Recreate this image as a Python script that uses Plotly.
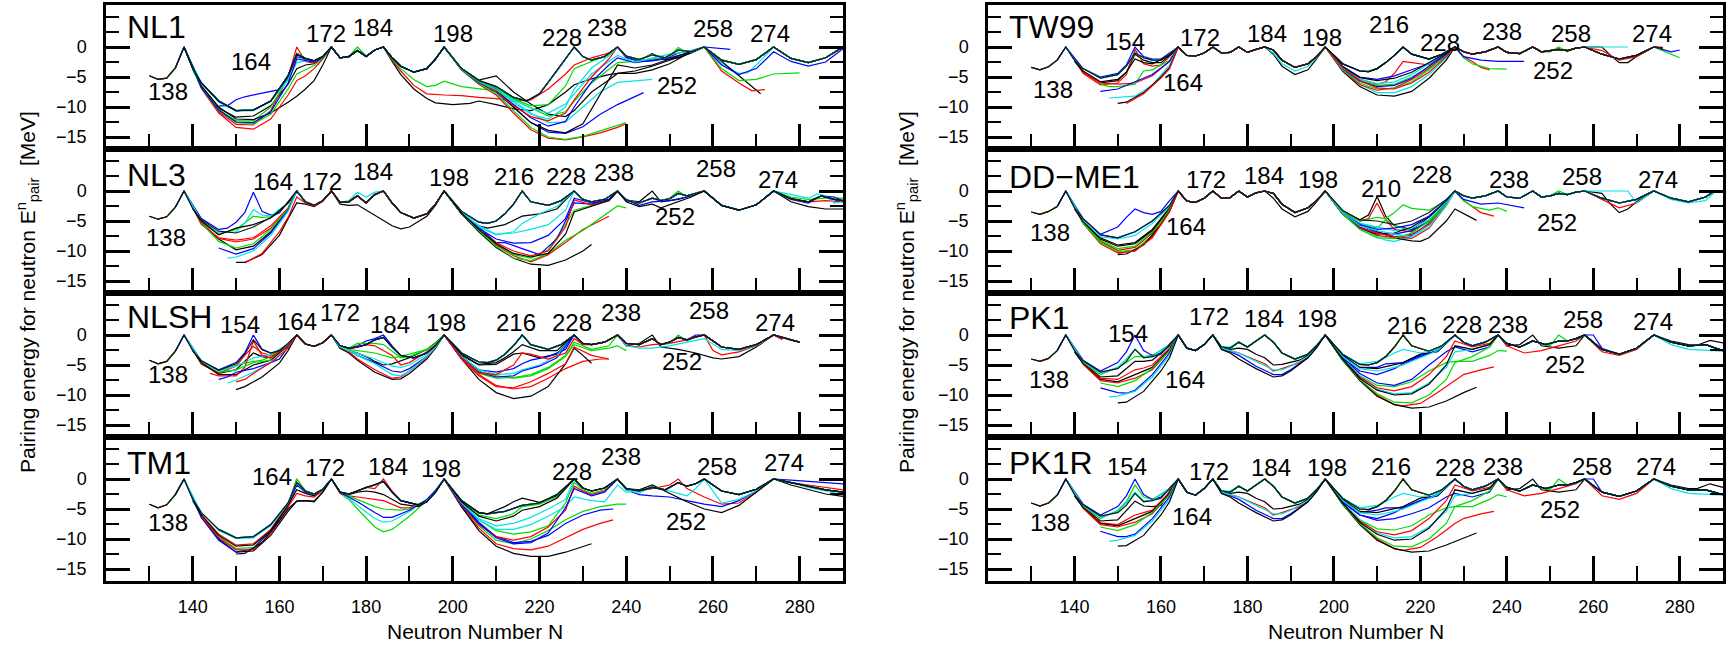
import plotly.graph_objects as go

W, H = 1731, 647
FONT = "Liberation Sans, Arial, Helvetica, sans-serif"
COLORS = ['#000000', '#ff0000', '#00dd00', '#0000ff', '#00e5e5']
ENVELOPE_COLOR = '#0a1a1a'

X_RANGE = [120, 290]
Y_RANGE = [-17, 7]
X_MAJOR = [140, 160, 180, 200, 220, 240, 260, 280]
X_MINOR = [130, 150, 170, 190, 210, 230, 250, 270, 290]
Y_MAJOR = [-15, -10, -5, 0]
Y_MINOR = [-12.5, -7.5, -2.5, 2.5, 5]

# ---------------- NL1 ----------------
NL1_top = [(130,-4.8),(132,-5.4),(134,-5.2),(136,-3.5),(138,0),(140,-3.6),(142,-6.0),(146,-9.0),(150,-10.6),(154,-10.5),(158,-9.0),(162,-4.8),(164,-1.2),(166,-1.9),(168,-2.3),(170,-1.6),(172,0),(174,-1.8),(176,-1.6),(178,-0.6),(180,-1.6),(182,-0.5),(184,0),(186,-1.8),(188,-3.2),(191,-4.2),(194,-3.6),(196,-2.0),(198,0),(202,-3.6),(206,-5.6),(210,-6.6),(214,-8.4),(217,-9.0),(220,-7.8),(224,-4.0),(228,0),(230,-1.6),(232,-2.2),(235,-1.6),(238,0),(240,-1.5),(243,-2.1),(246,-1.3),(249,-1.8),(252,-0.5),(255,-0.8),(258,0),(262,-2.2),(266,-2.9),(270,-2.1),(274,0),(278,-1.9),(282,-2.6),(286,-1.8),(290,0)]
NL1_curves = [
 (130,290,[[(138,0),(142,-6.6),(146,-10.2),(150,-11.7),(154,-11.5),(158,-9.8),(162,-6.2),(164,-3.6),(166,-3.0),(168,-2.8),(170,-1.8),(172,0)],[(238,0),(240,-1.7),(243,-2.2),(246,-1.1),(249,-2.1),(252,-1.8),(255,-1.0),(258,0)]]),
 (132,290,[[(138,0),(142,-6.8),(146,-10.8),(150,-12.9),(154,-13.0),(158,-10.6),(162,-5.0),(164,0),(166,-2.4),(168,-2.7),(170,-1.8),(172,0)]]),
 (134,290,[[(138,0),(142,-6.7),(146,-10.4),(150,-12.3),(154,-12.3),(158,-10.0),(162,-5.2),(164,-1.0),(166,-1.9),(168,-2.3),(170,-1.6),(172,0)],[(176,-1.6),(178,0),(180,-1.5)],[(250,-1.5),(252,-0.1),(254,-0.9)]]),
 (146,290,[[(146,-9.8),(148,-9.8),(150,-8.8),(152,-8.3),(156,-7.7),(160,-7.1),(162,-5.0),(164,-1.6),(166,-2.0),(168,-2.4),(170,-1.6),(172,0)],[(240,-1.8),(243,-2.4),(246,-2.3),(249,-2.0),(252,-1.0),(255,-0.6)]]),
 (138,290,[[(138,0),(142,-6.0),(146,-9.2),(150,-10.7),(154,-10.6),(158,-9.1),(162,-5.5),(164,-2.6),(166,-2.3),(168,-2.4),(170,-1.6),(172,0)],[(258,0),(262,-2.8),(266,-4.4),(268,-4.3),(270,-3.0),(274,0)]]),
 (138,271,[[(138,0),(142,-6.5),(146,-10.0),(150,-12.0),(154,-12.1),(158,-11.0),(162,-9.2),(164,-8.2),(166,-7.0),(168,-5.6),(170,-3.0),(172,0)],[(184,0),(186,-2.4),(188,-4.6),(191,-7.0),(194,-8.6),(196,-9.3),(200,-9.6),(204,-9.4),(206,-9.0),(210,-9.6),(214,-10.3),(218,-10.6),(222,-9.6),(226,-7.5),(228,-6.3),(232,-5.3),(236,-4.6),(238,-4.4),(242,-4.4),(246,-3.8),(250,-2.8),(254,-1.2),(258,0)],[(258,0),(271,-7.8)]]),
 (138,272,[[(138,0),(142,-6.9),(146,-11.0),(150,-13.4),(154,-13.7),(158,-12.0),(162,-8.0),(164,-5.6),(166,-4.8),(168,-3.6),(170,-2.0),(172,0)],[(184,0),(186,-2.2),(188,-4.0),(191,-6.4),(194,-7.8),(198,-8.0),(202,-8.1),(206,-8.4),(210,-8.6),(214,-9.0),(218,-8.8),(222,-7.0),(226,-4.5),(228,-3.0),(232,-1.8),(236,-1.0),(238,0)],[(258,0),(262,-4.0),(266,-6.0),(269,-7.3),(272,-7.1)]]),
 (140,280,[[(140,-3.8),(142,-6.8),(146,-10.6),(150,-12.6),(154,-12.8),(158,-11.2),(162,-7.0),(164,-4.5),(166,-3.8),(168,-3.1),(170,-1.9),(172,0)],[(184,0),(186,-2.0),(188,-3.6),(191,-5.4),(194,-6.6),(196,-6.4),(198,-5.7),(202,-6.6),(206,-7.0),(210,-7.3),(214,-8.8),(218,-10.2),(222,-11.5),(226,-10.8),(228,-9.0),(232,-6.0),(236,-3.8),(238,-2.6),(242,-2.4),(246,-2.0),(250,-1.6),(252,-0.4),(254,-1.0),(258,0)],[(258,0),(262,-3.6),(266,-5.6),(270,-5.4),(274,-4.5),(278,-4.3),(280,-4.3)]]),
 (136,244,[[(138,0),(142,-6.8),(146,-10.5),(150,-12.5),(154,-12.6),(158,-10.8),(162,-6.0),(164,-2.0),(166,-2.2),(168,-2.5),(170,-1.7),(172,0)],[(198,0),(202,-3.8),(206,-6.0),(210,-7.5),(214,-10.0),(218,-12.6),(222,-14.2),(226,-14.4),(230,-13.3),(234,-11.2),(238,-9.6),(242,-8.2),(244,-7.6)]]),
 (138,246,[[(198,0),(202,-3.7),(206,-5.8),(210,-7.0),(214,-9.0),(218,-11.0),(222,-12.6),(226,-12.5),(230,-10.0),(234,-7.5),(238,-5.9),(242,-5.6),(246,-5.4)]]),
 (138,290,[[(198,0),(202,-3.6),(206,-5.5),(210,-4.8),(214,-7.5),(218,-9.5),(222,-11.2),(226,-11.6),(228,-10.6),(232,-7.5),(236,-5.5),(238,-4.4),(242,-4.0),(246,-3.2),(250,-2.2),(254,-1.2),(258,0)]]),
 (198,240,[[(198,0),(202,-3.8),(206,-6.2),(210,-8.0),(214,-11.0),(218,-13.8),(222,-15.2),(226,-15.5),(230,-15.0),(234,-14.3),(238,-13.4),(240,-12.8)]]),
 (198,240,[[(198,0),(202,-3.8),(206,-6.1),(210,-7.8),(214,-10.6),(218,-13.4),(222,-15.0),(226,-15.4),(230,-14.9),(234,-14.0),(238,-13.0),(240,-12.6)]]),
 (138,290,[[(198,0),(202,-3.7),(206,-5.9),(210,-7.2),(214,-9.6),(218,-11.8),(222,-13.2),(226,-12.4),(228,-10.0),(232,-5.8),(236,-3.0),(238,-1.8),(242,-2.6),(246,-2.2),(250,-1.8),(254,-1.0),(258,0)],[(258,0),(262,-3.0),(266,-4.6),(270,-3.6),(274,-0.8),(278,-2.4),(282,-3.2),(286,-2.5),(290,-0.3)]]),
 (138,290,[[(198,0),(202,-3.6),(206,-5.7),(210,-6.8),(214,-8.8),(218,-10.2),(222,-11.0),(226,-9.5),(228,-7.8),(232,-4.5),(236,-2.4),(238,-1.4),(242,-2.5),(246,-1.8),(250,-1.2),(254,-0.8),(258,0)]]),
 (138,290,[[(198,0),(202,-3.7),(206,-5.9),(210,-7.0),(214,-10.0),(218,-12.6),(222,-13.9),(226,-14.3),(230,-12.8),(234,-8.0),(238,-3.0),(242,-3.5),(246,-3.0),(250,-2.0),(254,-1.0),(258,0)]]),
 (198,290,[[(198,0),(202,-3.7),(206,-5.8),(210,-7.4),(214,-9.8),(218,-11.6),(222,-12.3),(226,-11.0),(228,-8.8),(232,-5.0),(236,-2.0),(238,0)]]),
 (198,290,[[(198,0),(202,-3.6),(206,-5.6),(210,-6.8),(214,-8.6),(218,-9.8),(222,-9.6),(226,-6.5),(228,-3.6),(232,-2.4),(236,-1.2),(238,0)]]),
 (258,264,[[(258,0),(264,-0.4)]]),
 (198,290,[[(198,0),(202,-3.7),(206,-5.8),(210,-7.1),(214,-9.3),(218,-11.2),(222,-12.0),(226,-10.0),(228,-7.0),(232,-3.5),(236,-1.5),(238,0)]]),
]
NL1_labels = [('138',134.2,-7.5),('164',153.4,-2.4),('172',170.8,2.3),('184',181.5,3.3),('198',200.0,2.3),('228',225.1,1.5),('238',235.6,3.3),('252',251.7,-6.4),('258',260.0,3.1),('274',273.2,2.3)]

# ---------------- NL3 ----------------
NL3_top = [(130,-4.2),(132,-4.7),(134,-4.3),(136,-2.7),(138,0),(140,-2.9),(142,-4.8),(146,-6.7),(150,-7.0),(154,-6.0),(158,-4.4),(160,-3.6),(162,-1.8),(164,0),(166,-1.8),(168,-2.4),(170,-1.6),(172,0),(174,-1.9),(176,-1.8),(178,-0.8),(180,-2.0),(182,-0.6),(184,0),(186,-2.0),(188,-3.6),(191,-4.5),(194,-3.8),(196,-2.2),(198,0),(202,-3.4),(206,-5.2),(208,-5.4),(210,-5.0),(212,-3.8),(214,-2.2),(216,0),(218,-1.8),(222,-2.4),(225,-1.6),(228,0),(230,-1.4),(232,-1.8),(235,-1.4),(238,0),(240,-1.6),(243,-2.0),(246,-1.2),(248,-1.6),(250,-1.3),(252,-0.4),(254,-0.8),(258,0),(262,-2.4),(266,-3.2),(270,-2.3),(274,0),(278,-1.3),(282,-1.8),(285,-0.8),(288,-1.4),(290,-1.6)]
NL3_curves = [
 (130,290,[[(138,0),(142,-5.4),(146,-8.0),(150,-9.8),(154,-9.2),(158,-6.8),(162,-3.0),(164,0)],[(238,0),(240,-1.5),(243,-1.8),(246,0),(248,-1.8),(252,-1.4),(255,-0.8),(258,0)],[(274,0),(278,-1.8),(282,-2.6),(286,-3.0),(290,-3.0)]]),
 (132,290,[[(138,0),(142,-5.6),(146,-7.8),(150,-8.2),(154,-7.8),(158,-5.8),(162,-2.8),(164,0)],[(274,0),(278,-1.2),(282,-1.8),(286,-1.6),(290,-1.8)]]),
 (134,290,[[(138,0),(142,-5.2),(146,-7.2),(150,-6.4),(154,-4.2),(156,-4.4),(158,-4.3),(162,-2.0),(164,0)],[(250,-1.2),(252,0),(254,-1.0)],[(274,0),(278,-1.0),(282,-1.4),(286,-1.2),(290,-1.2)]]),
 (136,290,[[(138,0),(142,-4.6),(146,-6.4),(148,-6.2),(150,-5.2),(152,-3.6),(154,-0.2),(156,-3.4),(158,-4.0),(160,-3.6),(162,-1.8),(164,0)],[(274,0),(278,-1.4),(282,-2.0),(285,-0.8),(288,-1.0),(290,-1.6)]]),
 (138,290,[[(138,0),(142,-4.9),(146,-7.0),(150,-6.8),(152,-5.4),(154,-3.1),(156,-4.0),(158,-4.2),(162,-2.0),(164,0)],[(176,-1.6),(178,-0.2),(180,-1.0),(182,-0.2)],[(274,0),(278,-0.6),(282,-1.2),(284,-0.5),(286,-0.8),(288,-2.0),(290,-1.8)]]),
 (140,290,[[(140,-3.0),(142,-5.0),(146,-7.3),(150,-6.2),(154,-5.6),(156,-5.0),(158,-4.5),(162,-2.0),(164,0)],[(172,0),(174,-2.2),(176,-2.4),(178,-2.3),(182,-4.0),(186,-5.8),(188,-6.3),(190,-6.0),(194,-4.2),(196,-2.4),(198,0)],[(198,0),(202,-3.8),(206,-5.8),(208,-6.2),(212,-5.6),(216,-4.2),(220,-3.8),(224,-3.0),(228,0)]]),
 (142,236,[[(142,-5.3),(146,-7.9),(150,-8.5),(154,-8.0),(158,-6.2),(162,-3.0),(164,0)],[(198,0),(202,-3.8),(206,-6.6),(210,-9.0),(214,-10.8),(218,-11.8),(222,-10.6),(226,-8.6),(230,-6.4),(234,-5.0),(236,-4.2)]]),
 (142,290,[[(142,-5.4),(146,-8.4),(150,-9.5),(154,-8.8),(158,-6.4),(162,-3.0),(164,0)],[(198,0),(202,-3.8),(206,-6.6),(210,-8.8),(214,-10.6),(218,-11.2),(222,-9.8),(226,-5.6),(228,-3.2),(232,-2.4),(236,-1.6),(238,0)]]),
 (146,290,[[(146,-9.5),(150,-10.5),(154,-9.6),(158,-7.0),(162,-3.2),(164,0)],[(198,0),(202,-3.6),(206,-6.0),(210,-8.6),(212,-8.6),(216,-9.6),(220,-10.6),(224,-8.0),(228,-2.0),(232,-2.2),(236,-1.4),(238,0)]]),
 (148,290,[[(148,-11.2),(150,-11.0),(154,-10.0),(158,-7.4),(162,-3.4),(164,0)],[(198,0),(202,-3.5),(206,-6.0),(210,-7.3),(214,-6.8),(216,-5.4),(220,-3.8),(224,-2.6),(228,0)]]),
 (150,232,[[(150,-11.9),(152,-11.9),(156,-10.6),(160,-7.4),(162,-4.6),(164,-2.0),(166,-2.2),(168,-2.6),(170,-1.7),(172,0)],[(198,0),(202,-3.8),(206,-6.8),(210,-9.4),(214,-11.2),(218,-12.2),(222,-12.4),(226,-11.5),(230,-10.0),(232,-8.9)]]),
 (152,290,[[(152,-12.0),(156,-10.4),(160,-6.8),(162,-4.4),(164,-1.0),(166,-2.0),(168,-2.5),(170,-1.7),(172,0)],[(198,0),(202,-3.8),(206,-6.5),(210,-8.6),(214,-10.0),(218,-10.8),(222,-10.0),(226,-6.0),(228,-1.5),(232,-2.3),(236,-1.6),(238,0)]]),
 (198,240,[[(198,0),(202,-3.7),(206,-6.6),(210,-9.2),(214,-11.2),(218,-11.6),(222,-10.4),(226,-8.2),(230,-6.6),(234,-4.5),(238,-2.5),(240,-2.8)]]),
 (198,290,[[(198,0),(202,-3.6),(206,-6.2),(210,-8.0),(214,-8.7),(218,-8.6),(222,-7.4),(226,-4.6),(228,-1.2),(232,-2.0),(236,-1.4),(238,0)],[(240,-1.4),(243,-2.4),(246,-1.8),(250,-1.6),(254,-1.0),(258,0)]]),
 (198,290,[[(198,0),(202,-3.6),(206,-5.8),(210,-7.2),(214,-7.0),(218,-6.4),(222,-5.6),(226,-3.2),(228,0)]]),
 (198,290,[[(198,0),(202,-3.7),(206,-6.4),(210,-8.8),(214,-10.4),(218,-11.0),(222,-10.4),(226,-7.2),(228,-3.5),(232,-2.5),(236,-1.6),(238,0)],[(240,-1.8),(243,-2.6),(246,-2.2),(248,-2.8),(252,-1.8),(255,-1.0),(258,0)]]),
]
NL3_labels = [('138',133.9,-7.7),('164',158.6,1.6),('172',169.8,1.6),('184',181.5,3.3),('198',199.2,2.2),('216',214.0,2.4),('228',226.2,2.4),('238',237.1,3.1),('252',251.3,-4.3),('258',260.7,3.8),('274',275.1,1.9)]

# ---------------- NLSH ----------------
NLSH_top = [(130,-4.2),(132,-4.8),(134,-4.4),(136,-2.7),(138,0),(140,-2.6),(142,-4.3),(146,-5.9),(150,-4.8),(152,-3.2),(154,-0.8),(156,-2.4),(158,-3.0),(160,-2.6),(162,-1.4),(164,0),(166,-1.5),(168,-1.9),(170,-1.3),(172,0),(174,-1.8),(176,-2.2),(178,-2.0),(180,-1.6),(182,-0.8),(184,-0.4),(186,-2.0),(188,-3.4),(191,-3.8),(194,-3.0),(196,-1.8),(198,0),(202,-3.0),(206,-4.5),(208,-4.6),(210,-4.2),(212,-3.2),(214,-1.8),(216,0),(218,-1.6),(222,-2.4),(225,-1.6),(228,0),(230,-1.4),(232,-1.6),(235,-1.2),(238,0),(240,-1.4),(243,-1.6),(246,-0.6),(248,-1.6),(250,-1.2),(252,-0.4),(254,-0.8),(256,-0.3),(258,0),(262,-2.0),(266,-2.4),(270,-1.6),(274,0),(278,-0.8),(280,-1.2)]
NLSH_curves = [
 (130,276,[[(138,0),(142,-4.8),(146,-6.4),(150,-5.8),(154,-3.0),(156,-3.6),(158,-3.8),(162,-1.6),(164,0)],[(238,0),(240,-1.8),(243,-1.4),(246,0),(248,-2.0),(252,-2.4),(256,-3.0),(260,-3.8),(262,-4.0),(266,-3.6),(270,-2.0),(274,0),(276,-0.6)]]),
 (132,276,[[(138,0),(142,-4.9),(146,-6.3),(150,-5.2),(152,-3.4),(154,-1.9),(156,-3.0),(158,-3.4),(162,-1.6),(164,0)],[(238,0),(240,-1.8),(243,-2.0),(246,-1.6),(250,-1.4),(254,-0.8),(258,0),(260,-2.6),(262,-3.3),(266,-2.8),(270,-1.8),(274,0),(276,-0.8)]]),
 (134,280,[[(138,0),(142,-4.7),(146,-6.0),(150,-5.0),(154,-4.4),(156,-4.2),(158,-3.6),(162,-1.6),(164,0)],[(250,-1.4),(252,0),(254,-1.0)],[(274,0),(278,-0.9),(280,-1.2)]]),
 (136,280,[[(138,0),(142,-4.3),(146,-5.8),(150,-4.6),(152,-3.0),(154,0),(156,-2.4),(158,-3.0),(160,-2.6),(162,-1.4),(164,0)],[(178,-1.8),(180,-1.0),(182,-0.6),(184,0),(186,-1.8)],[(254,-0.8),(256,0),(258,0)]]),
 (138,280,[[(138,0),(142,-4.4),(146,-6.0),(150,-5.2),(154,-3.8),(156,-3.6),(158,-3.2),(162,-1.5),(164,0)],[(240,-1.8),(243,-2.2),(246,-2.2),(250,-1.8),(254,-1.2),(258,-0.6),(262,-2.4),(266,-2.6),(270,-1.8),(274,0)]]),
 (140,280,[[(140,-2.6),(142,-4.6),(146,-6.6),(150,-6.6),(154,-5.0),(158,-4.2),(162,-1.8),(164,0)],[(172,0),(174,-2.2),(176,-2.6),(178,-3.0),(180,-3.6),(182,-4.4),(184,-5.0),(186,-4.8),(190,-3.8),(194,-2.4),(196,-1.3),(198,0)],[(198,0),(202,-3.4),(206,-5.0),(210,-4.9),(212,-4.0),(214,-3.2),(216,-3.0),(220,-3.8),(224,-3.2),(228,0)]]),
 (144,236,[[(144,-6.4),(146,-6.8),(150,-6.8),(152,-5.4),(154,-1.0),(156,-3.4),(158,-3.8),(162,-1.8),(164,0)],[(172,0),(174,-2.0),(176,-2.4),(178,-2.0),(180,-1.6),(182,-1.8),(186,-3.4),(188,-5.0),(190,-4.6),(194,-2.8),(196,-1.6),(198,0)],[(198,0),(202,-3.8),(206,-6.6),(210,-8.4),(214,-9.0),(218,-8.6),(222,-7.2),(226,-5.6),(230,-4.4),(234,-4.0),(236,-4.0)]]),
 (146,240,[[(146,-6.2),(150,-5.8),(154,-4.6),(158,-4.2),(160,-4.0),(162,-2.0),(164,0)],[(172,0),(174,-2.0),(176,-2.2),(178,-1.4),(182,-1.4),(184,-1.6),(188,-3.8),(190,-3.6),(194,-2.4),(196,-1.4),(198,0)],[(198,0),(202,-3.6),(206,-6.0),(210,-6.8),(214,-7.2),(218,-6.8),(222,-5.6),(226,-3.6),(228,-1.6),(232,-2.6),(236,-2.2),(238,-1.8),(240,-2.6)]]),
 (146,280,[[(146,-7.4),(148,-7.0),(150,-6.2),(154,-5.6),(158,-4.6),(160,-4.0),(162,-2.0),(164,0)],[(172,0),(174,-2.0),(176,-2.6),(178,-3.4),(182,-4.6),(186,-6.0),(188,-6.2),(190,-5.6),(194,-3.6),(196,-2.0),(198,0)],[(198,0),(202,-3.6),(206,-5.8),(210,-6.2),(214,-5.6),(216,-4.8),(218,-4.2),(222,-3.6),(226,-2.4),(228,0)]]),
 (148,280,[[(148,-8.0),(150,-7.5),(154,-6.2),(158,-4.6),(162,-2.2),(164,0)],[(172,0),(174,-2.1),(176,-2.6),(178,-3.0),(182,-4.0),(186,-5.2),(188,-5.4),(190,-5.0),(194,-3.2),(196,-1.8),(198,0)],[(198,0),(202,-3.6),(206,-5.8),(210,-6.6),(214,-6.4),(216,-5.8),(220,-5.0),(224,-3.4),(228,0)]]),
 (150,232,[[(150,-9.1),(152,-8.6),(156,-7.0),(160,-4.7),(162,-2.6),(164,0)],[(172,0),(174,-2.2),(176,-3.0),(178,-4.2),(182,-6.2),(186,-7.4),(188,-7.3),(190,-6.4),(194,-4.0),(196,-2.2),(198,0)],[(198,0),(202,-4.0),(206,-7.4),(210,-9.6),(214,-10.6),(218,-10.2),(222,-8.6),(226,-4.8),(228,-2.2),(230,-3.4),(232,-4.7)]]),
 (150,236,[[(150,-7.8),(152,-7.4),(154,-6.4),(158,-4.6),(162,-2.2),(164,0)],[(172,0),(174,-2.0),(176,-2.8),(178,-4.0),(182,-5.8),(186,-7.2),(188,-7.0),(190,-6.0),(194,-3.8),(196,-2.0),(198,0)],[(198,0),(202,-4.0),(206,-6.8),(210,-8.6),(214,-8.8),(218,-7.8),(222,-6.4),(226,-4.8),(228,-2.0),(232,-3.4),(236,-4.0)]]),
 (172,280,[[(172,0),(174,-2.0),(176,-2.4),(178,-2.6),(182,-3.0),(186,-3.8),(188,-3.6),(190,-3.2),(194,-2.4),(196,-1.4),(198,0)],[(198,0),(202,-3.8),(206,-6.4),(210,-7.2),(214,-7.1),(218,-6.6),(222,-5.4),(226,-3.4),(228,-1.2),(232,-2.4),(236,-1.8),(238,0)]]),
 (172,280,[[(198,0),(202,-3.8),(206,-6.2),(210,-7.0),(214,-6.8),(216,-6.0),(220,-5.2),(224,-3.8),(228,0)]]),
 (172,280,[[(172,0),(174,-2.0),(176,-2.6),(178,-3.4),(182,-4.8),(186,-6.6),(188,-6.8),(190,-6.0),(194,-3.6),(196,-2.0),(198,0)]]),
 (198,280,[[(198,0),(202,-3.2),(206,-4.9),(210,-4.6),(212,-3.8),(214,-2.8),(216,-1.6),(220,-2.6),(224,-2.6),(228,0)]]),
 (198,280,[[(198,0),(202,-3.8),(206,-6.3),(210,-6.6),(214,-5.0),(216,-3.0),(218,-3.2),(222,-4.0),(226,-3.0),(228,-0.6),(230,-1.6)]]),
]
NLSH_labels = [('138',134.4,-6.6),('154',150.9,1.7),('164',164.1,2.3),('172',174.0,3.7),('184',185.6,1.7),('198',198.5,2.0),('216',214.6,2.0),('228',227.5,2.0),('238',238.7,3.7),('252',252.8,-4.4),('258',259.0,4.0),('274',274.4,2.0)]

# ---------------- TM1 ----------------
TM1_top = [(130,-4.2),(132,-4.8),(134,-4.3),(136,-2.6),(138,0),(140,-3.4),(142,-5.6),(146,-8.4),(150,-9.8),(154,-9.6),(158,-7.6),(162,-4.0),(164,-0.6),(166,-2.0),(168,-2.5),(170,-1.7),(172,0),(174,-2.2),(176,-2.5),(178,-2.0),(180,-1.4),(182,-1.0),(184,-0.4),(186,-2.2),(188,-3.6),(192,-4.3),(194,-3.8),(196,-2.2),(198,0),(202,-3.6),(206,-5.6),(208,-5.8),(212,-5.4),(216,-4.4),(220,-4.0),(224,-2.6),(228,0),(230,-1.5),(232,-2.0),(235,-1.5),(238,0),(240,-1.6),(243,-2.0),(246,-1.4),(249,-1.8),(252,-0.6),(254,-1.2),(256,-0.8),(258,0),(262,-2.0),(266,-2.6),(270,-1.7),(274,0),(278,-0.6),(282,-1.2),(286,-1.8),(290,-2.2)]
TM1_curves = [
 (130,290,[[(138,0),(142,-6.4),(146,-10.0),(150,-12.2),(154,-12.0),(158,-9.4),(162,-5.4),(164,-3.7),(166,-3.6),(168,-3.7),(170,-2.2),(172,0)],[(274,0),(278,-1.0),(282,-1.8),(286,-2.5),(290,-2.9)]]),
 (132,290,[[(138,0),(142,-6.0),(146,-9.2),(150,-11.0),(154,-10.8),(158,-8.4),(162,-4.2),(164,0)],[(182,-1.6),(184,0),(186,-2.0)],[(246,-1.6),(250,-1.0),(252,0),(254,-1.6),(258,-3.0),(262,-4.2),(266,-4.0),(270,-2.2),(274,0)],[(274,0),(278,-0.6),(282,-1.0),(286,-1.4),(290,-1.8)]]),
 (134,240,[[(138,0),(142,-6.2),(146,-9.6),(150,-11.6),(154,-11.4),(158,-8.8),(162,-4.4),(164,0)],[(172,0),(174,-2.4),(176,-3.4),(178,-5.0),(182,-8.0),(184,-8.8),(186,-8.4),(190,-6.2),(194,-3.6),(196,-2.0),(198,0)],[(198,0),(202,-4.4),(206,-7.8),(210,-10.2),(214,-10.8),(218,-10.0),(222,-8.6),(226,-6.8),(230,-5.4),(234,-4.6),(238,-4.2),(240,-4.2)]]),
 (136,290,[[(138,0),(142,-6.4),(146,-10.2),(150,-12.2),(154,-11.6),(158,-8.6),(162,-4.6),(164,-1.0),(166,-2.2),(168,-2.6),(170,-1.8),(172,0)],[(240,-1.8),(243,-2.6),(246,-2.8),(250,-3.0),(254,-3.6),(258,-4.2),(262,-4.6),(266,-3.6),(270,-2.0),(274,0)],[(274,0),(278,-0.2),(282,-0.4),(286,-0.6),(290,-0.8)]]),
 (138,290,[[(138,0),(142,-5.6),(146,-8.6),(150,-9.9),(154,-9.8),(158,-7.8),(162,-4.2),(164,-0.6),(166,-2.0),(168,-2.6),(170,-1.7),(172,0)],[(172,0),(174,-2.2),(176,-3.2),(178,-4.4),(182,-6.6),(184,-7.2),(186,-7.0),(190,-5.4),(194,-3.4),(196,-2.0),(198,0)],[(240,-1.8),(243,-2.4),(246,-1.2),(250,-2.0),(254,-2.8),(256,-1.6),(258,0),(262,-4.0),(266,-3.4),(270,-2.0),(274,0)],[(274,0),(278,-0.6),(282,-1.4),(286,-2.0),(290,-2.6)]]),
 (140,290,[[(140,-3.6),(142,-6.0),(146,-9.4),(150,-11.2),(154,-11.0),(158,-8.6),(162,-4.4),(164,-1.8),(166,-2.4),(168,-2.8),(170,-1.8),(172,0)],[(172,0),(174,-2.2),(176,-2.6),(178,-2.2),(180,-2.0),(182,-2.2),(184,-2.6),(188,-4.2),(192,-4.6),(194,-3.8),(196,-2.2),(198,0)],[(198,0),(202,-3.6),(206,-5.6),(208,-5.8),(212,-4.6),(214,-3.8),(216,-3.2),(220,-3.9),(224,-2.8),(228,0)],[(240,-1.6),(243,-1.8),(246,-1.0),(250,-2.4),(254,-3.8),(258,-5.0),(262,-5.6),(266,-4.4),(270,-2.2),(274,0)]]),
 (142,237,[[(142,-6.2),(146,-9.8),(150,-11.8),(154,-11.8),(158,-9.2),(162,-4.8),(164,-2.4),(166,-2.8),(168,-3.0),(170,-1.9),(172,0)],[(172,0),(174,-2.4),(176,-2.8),(178,-3.0),(182,-3.4),(184,-3.6),(188,-4.8),(190,-4.8),(194,-3.6),(196,-2.0),(198,0)],[(198,0),(202,-4.6),(206,-8.2),(210,-10.8),(214,-11.6),(218,-11.8),(222,-11.2),(226,-9.8),(230,-8.4),(234,-7.4),(237,-6.8)]]),
 (146,290,[[(172,0),(174,-2.2),(176,-2.8),(178,-3.4),(182,-4.6),(184,-5.0),(188,-5.2),(190,-5.0),(194,-3.6),(196,-2.0),(198,0)],[(198,0),(202,-4.2),(206,-6.8),(210,-8.6),(214,-9.2),(218,-8.8),(222,-7.8),(226,-4.0),(228,-0.6),(230,-1.8),(232,-2.4),(235,-1.8),(238,0)]]),
 (146,237,[[(172,0),(174,-2.2),(176,-3.0),(178,-3.8),(182,-5.6),(184,-6.4),(186,-6.4),(190,-5.2),(194,-3.4),(196,-1.9),(198,0)],[(198,0),(202,-4.0),(206,-7.2),(210,-9.6),(214,-10.6),(218,-10.4),(222,-9.4),(226,-7.4),(230,-6.0),(234,-5.2),(237,-5.0)]]),
 (146,290,[[(198,0),(202,-4.0),(206,-6.8),(210,-8.4),(214,-8.4),(218,-7.6),(222,-6.2),(226,-4.6),(228,-3.0),(232,-3.6),(235,-3.8),(238,-1.0),(240,-2.2)]]),
 (150,232,[[(150,-12.5),(152,-12.4),(156,-10.6),(160,-7.0),(162,-5.0),(164,-3.7),(166,-3.6),(168,-3.8),(170,-2.2),(172,0)],[(198,0),(202,-4.6),(206,-8.6),(210,-11.2),(214,-12.4),(218,-12.9),(222,-12.9),(226,-12.2),(230,-11.2),(232,-10.8)]]),
 (198,290,[[(198,0),(202,-4.4),(206,-7.6),(210,-9.6),(214,-10.2),(218,-9.6),(222,-8.0),(226,-5.2),(228,-1.2),(230,-2.0),(232,-2.6),(235,-2.0),(238,0)]]),
 (198,290,[[(198,0),(202,-3.8),(206,-6.0),(210,-6.6),(214,-5.8),(216,-4.6),(220,-4.2),(224,-3.0),(228,0)]]),
 (198,290,[[(198,0),(202,-4.2),(206,-7.4),(210,-9.8),(214,-10.8),(218,-10.6),(222,-9.0),(226,-4.8),(228,-1.6),(232,-2.8),(235,-2.2),(238,0)]]),
 (198,290,[[(198,0),(202,-4.0),(206,-6.6),(210,-7.8),(214,-7.4),(218,-6.4),(222,-5.0),(226,-3.4),(228,0)]]),
 (198,290,[[(198,0),(202,-3.8),(206,-6.2),(210,-7.0),(214,-6.2),(216,-5.2),(220,-4.6),(224,-3.2),(228,0)]]),
]
TM1_labels = [('138',134.4,-7.3),('164',158.2,0.4),('172',170.6,2.0),('184',185.0,2.1),('198',197.2,1.8),('228',227.5,1.3),('238',238.8,3.8),('252',253.8,-7.0),('258',260.9,2.1),('274',276.4,2.7)]

# ---------------- TW99 ----------------
TW99_top = [(130,-3.4),(132,-3.8),(134,-3.3),(136,-2.2),(138,0),(140,-2.2),(142,-3.6),(146,-5.2),(150,-4.6),(152,-3.2),(154,-1.0),(156,-1.8),(158,-2.2),(160,-2.2),(162,-1.2),(164,0),(166,-1.4),(168,-1.5),(170,-1.0),(172,0),(174,-1.0),(176,-0.9),(178,0),(180,-0.9),(182,-0.4),(184,0),(186,-0.5),(188,-2.2),(191,-3.4),(194,-2.8),(196,-1.6),(198,0),(202,-2.8),(206,-4.0),(208,-4.1),(210,-3.6),(212,-2.6),(214,-1.4),(216,0),(218,-1.2),(222,-2.0),(225,-1.2),(228,0),(230,-0.8),(232,-1.2),(235,-0.8),(238,0),(240,-0.9),(243,-1.1),(246,0),(248,-0.8),(250,-0.6),(252,-0.4),(254,-0.6),(256,-0.2),(258,0),(262,-1.2),(266,-2.0),(270,-1.4),(274,0),(276,-0.2)]
TW99_curves = [
 (130,274,[[(138,0),(142,-4.2),(146,-6.0),(150,-5.6),(152,-4.2),(154,-1.2),(156,-2.2),(158,-2.6),(160,-2.6),(162,-1.4),(164,0)],[(184,0),(186,-1.2),(188,-3.2),(191,-4.6),(194,-3.8),(196,-2.0),(198,0)],[(258,0),(262,0),(264,-1.4),(266,-2.6),(268,-2.6),(270,-1.6),(274,0)]]),
 (132,276,[[(138,0),(142,-4.4),(146,-6.3),(150,-6.0),(152,-4.6),(154,-0.4),(156,-2.8),(158,-3.2),(160,-3.0),(162,-1.6),(164,0)],[(258,0),(262,-0.6),(266,-2.2),(270,-1.6),(274,0),(276,0)]]),
 (134,280,[[(250,-0.8),(252,0),(254,-0.8)],[(274,0),(276,-0.6),(278,-1.2),(280,-1.8)]]),
 (136,280,[[(138,0),(142,-3.6),(146,-5.0),(150,-4.4),(152,-3.0),(154,0),(156,-1.6),(158,-2.0),(160,-2.0),(162,-1.0),(164,0)],[(274,0),(276,-0.4),(278,-0.8),(280,-0.5)]]),
 (138,268,[[(184,0),(186,-1.0),(188,-2.8),(191,-4.0),(194,-3.2),(196,-1.8),(198,0)],[(258,0),(262,0),(266,0),(268,0)]]),
 (140,276,[[(140,-2.4),(142,-4.0),(146,-5.8),(150,-5.4),(152,-4.2),(154,-2.0),(156,-2.6),(158,-2.8),(162,-1.4),(164,0)]]),
 (142,236,[[(142,-4.2),(146,-6.0),(150,-6.2),(154,-6.0),(158,-4.8),(162,-2.4),(164,0)],[(198,0),(202,-3.6),(206,-5.4),(210,-6.2),(212,-5.8),(214,-4.4),(216,-2.4),(218,-2.6),(222,-3.0),(225,-1.8),(228,0),(230,-1.6),(232,-2.4),(234,-3.4),(236,-3.8)]]),
 (146,240,[[(146,-6.2),(148,-6.6),(150,-6.6),(154,-6.2),(156,-4.0),(158,-3.8),(162,-2.2),(164,0)],[(198,0),(202,-3.6),(206,-5.6),(210,-6.4),(214,-6.2),(218,-5.0),(222,-3.4),(226,-1.6),(228,0),(230,-1.8),(232,-2.8),(236,-3.6),(240,-3.7)]]),
 (146,244,[[(146,-7.4),(150,-7.0),(154,-5.8),(158,-4.6),(162,-2.4),(164,0)],[(198,0),(202,-3.2),(206,-5.0),(210,-5.4),(214,-4.8),(218,-3.8),(222,-2.8),(226,-1.2),(228,0),(230,-1.6),(234,-2.2),(238,-2.4),(244,-2.4)]]),
 (148,276,[[(148,-8.5),(150,-8.4),(154,-8.2),(158,-6.4),(162,-3.0),(164,0)],[(198,0),(202,-3.8),(206,-6.2),(210,-7.6),(214,-7.6),(218,-6.6),(222,-4.6),(226,-1.8),(228,0)]]),
 (150,276,[[(150,-9.4),(152,-9.2),(156,-7.6),(160,-5.0),(162,-3.4),(164,0)],[(198,0),(202,-4.0),(206,-6.6),(210,-8.0),(214,-8.2),(218,-7.4),(222,-5.2),(226,-2.2),(228,0)]]),
 (152,276,[[(152,-9.4),(156,-7.8),(160,-5.2),(162,-3.6),(164,0)],[(198,0),(202,-3.9),(206,-6.3),(210,-7.2),(214,-6.8),(218,-5.4),(222,-3.6),(226,-1.4),(228,0)]]),
 (198,276,[[(198,0),(202,-3.8),(206,-6.0),(210,-7.0),(214,-6.9),(218,-5.8),(222,-3.8),(226,-1.4),(228,0)]]),
 (198,276,[[(198,0),(202,-3.6),(206,-5.7),(210,-6.6),(214,-6.4),(218,-5.2),(222,-3.2),(226,-1.2),(228,0)]]),
 (198,276,[[(198,0),(202,-3.5),(206,-5.4),(210,-6.1),(214,-5.8),(218,-4.6),(222,-2.8),(226,-1.0),(228,0)]]),
 (198,276,[[(198,0),(202,-3.3),(206,-5.1),(210,-5.6),(214,-5.2),(218,-4.2),(222,-2.6),(226,-1.0),(228,0)]]),
 (198,276,[[(198,0),(202,-3.4),(206,-5.6),(210,-6.8),(214,-7.0),(218,-6.0),(222,-4.2),(226,-1.6),(228,0)]]),
]
TW99_labels = [('138',135.0,-7.1),('154',151.7,0.9),('164',165.0,-6.0),('172',169.1,1.5),('184',184.6,2.3),('198',197.2,1.5),('216',212.7,3.7),('228',224.5,0.7),('238',238.9,2.5),('252',250.7,-3.9),('258',254.8,2.3),('274',273.5,2.3)]

# ---------------- DD-ME1 ----------------
DDME1_top = [(130,-3.5),(132,-3.9),(134,-3.4),(136,-2.6),(138,0),(140,-2.8),(142,-4.6),(146,-7.3),(150,-7.8),(154,-6.8),(158,-5.0),(162,-2.4),(164,0),(166,-1.7),(168,-1.9),(170,-1.2),(172,0),(174,-1.2),(176,-1.1),(178,0),(180,-1.0),(182,-0.3),(184,0),(186,-0.4),(188,-2.2),(191,-3.6),(194,-2.8),(196,-1.6),(198,0),(202,-3.2),(206,-4.8),(210,-5.0),(214,-5.6),(218,-5.0),(222,-3.6),(226,-1.4),(228,0),(230,-0.8),(232,-1.2),(235,-0.8),(238,0),(240,-1.0),(243,-1.2),(246,0),(248,-1.0),(250,-0.8),(252,-0.4),(254,-0.6),(256,-0.2),(258,0),(262,-1.2),(266,-2.0),(270,-1.4),(274,0),(278,-1.2),(282,-1.8),(286,-1.0),(288,0),(290,0)]
DDME1_curves = [
 (130,290,[[(138,0),(142,-5.2),(146,-7.8),(150,-9.0),(154,-8.6),(158,-6.4),(162,-2.8),(164,0)],[(184,0),(186,-1.2),(188,-3.0),(191,-4.3),(194,-3.4),(196,-1.8),(198,0)],[(198,0),(202,-3.4),(206,-4.8),(208,-4.0),(210,-0.9),(212,-4.2),(214,-5.8),(218,-6.4),(222,-4.4),(226,-1.6),(228,0)],[(258,0),(262,-0.4),(264,-2.2),(266,-3.6),(268,-3.0),(270,-1.8),(274,0)]]),
 (132,290,[[(138,0),(142,-5.4),(146,-8.4),(150,-9.9),(154,-9.4),(158,-7.0),(162,-3.0),(164,0)],[(198,0),(202,-3.4),(206,-5.0),(208,-4.6),(210,-2.0),(212,-4.8),(214,-6.4),(218,-6.8),(222,-5.0),(226,-2.0),(228,0)],[(258,0),(262,-1.4),(266,-2.8),(270,-2.0),(274,0)]]),
 (134,290,[[(138,0),(142,-5.3),(146,-8.2),(150,-9.6),(154,-9.2),(158,-6.8),(162,-2.9),(164,0)],[(198,0),(202,-3.4),(206,-5.0),(210,-4.4),(212,-4.6),(214,-3.6),(216,-2.3),(218,-2.9),(222,-3.2),(226,-1.6),(228,0)],[(250,-0.8),(252,0),(254,-0.6)]]),
 (136,290,[[(138,0),(142,-4.6),(146,-7.2),(150,-6.0),(152,-4.4),(154,-3.0),(156,-3.6),(158,-3.9),(160,-3.4),(162,-1.6),(164,0)],[(198,0),(202,-3.6),(206,-5.6),(210,-6.8),(214,-7.6),(218,-7.4),(222,-5.4),(226,-2.0),(228,0)]]),
 (138,290,[[(138,0),(142,-4.9),(146,-7.6),(150,-8.0),(154,-7.4),(158,-5.4),(162,-2.6),(164,0)],[(198,0),(202,-3.8),(206,-6.2),(210,-7.6),(212,-8.2),(214,-8.4),(218,-7.6),(222,-5.6),(226,-2.2),(228,0)],[(258,0),(262,0),(266,0),(268,0),(270,-2.0),(274,0)],[(274,0),(278,-1.4),(282,-2.0),(286,-1.6),(288,-0.2),(290,0)]]),
 (140,233,[[(140,-3.0),(142,-5.1),(146,-8.0),(150,-9.2),(154,-8.8),(158,-6.6),(162,-2.9),(164,0)],[(198,0),(202,-3.6),(206,-5.6),(210,-6.8),(214,-7.8),(218,-8.3),(220,-8.4),(222,-7.8),(226,-5.0),(228,-3.0),(230,-3.8),(233,-4.9)]]),
 (142,237,[[(142,-5.4),(146,-8.8),(150,-10.3),(154,-10.0),(158,-7.6),(162,-3.2),(164,0)],[(198,0),(202,-3.8),(206,-6.0),(210,-7.4),(214,-7.8),(218,-7.2),(222,-5.6),(226,-2.4),(228,0),(230,-1.6),(232,-2.6),(234,-3.6),(237,-4.2)]]),
 (142,240,[[(142,-5.3),(146,-8.6),(150,-10.1),(154,-9.8),(158,-7.4),(162,-3.1),(164,0)],[(198,0),(202,-3.6),(206,-5.4),(210,-6.2),(212,-4.8),(214,-5.8),(218,-6.6),(222,-5.2),(226,-2.2),(228,0),(230,-1.6),(232,-2.6),(236,-3.2),(238,-2.8),(240,-3.4)]]),
 (146,244,[[(198,0),(202,-3.8),(206,-6.0),(210,-7.0),(214,-7.2),(218,-6.6),(222,-5.0),(226,-2.0),(228,0),(230,-1.4),(234,-2.2),(238,-2.0),(242,-2.6),(244,-2.8)]]),
 (148,290,[[(198,0),(202,-3.6),(206,-5.4),(210,-6.0),(214,-6.6),(218,-6.2),(222,-4.8),(226,-1.8),(228,0)]]),
 (150,290,[[(150,-10.6),(152,-10.5),(156,-9.0),(160,-5.6),(162,-3.4),(164,0)],[(198,0),(202,-3.8),(206,-6.2),(210,-7.2),(214,-7.0),(218,-6.0),(222,-4.2),(226,-1.6),(228,0)]]),
 (150,290,[[(150,-10.4),(154,-10.0),(158,-7.8),(162,-3.4),(164,0)],[(198,0),(202,-3.8),(206,-6.2),(210,-7.0),(214,-7.6),(218,-7.9),(222,-6.2),(226,-2.4),(228,0)]]),
 (198,290,[[(198,0),(202,-3.8),(206,-6.4),(210,-7.8),(214,-7.9),(218,-7.0),(222,-5.0),(226,-2.0),(228,0)]]),
 (198,290,[[(198,0),(202,-3.6),(206,-5.6),(210,-6.4),(214,-6.2),(218,-5.6),(222,-4.2),(226,-1.6),(228,0)]]),
 (198,290,[[(198,0),(202,-3.6),(206,-5.8),(210,-6.6),(214,-7.2),(218,-7.6),(222,-6.0),(226,-2.4),(228,0)]]),
]
DDME1_labels = [('138',134.3,-6.9),('164',165.9,-5.9),('172',170.4,1.9),('184',183.9,2.6),('198',196.4,1.9),('210',211.0,0.4),('228',222.8,2.7),('238',240.6,1.9),('252',251.6,-5.2),('258',257.4,2.4),('274',275.0,1.9)]

# ---------------- PK1 ----------------
PK1_top = [(130,-4.0),(132,-4.4),(134,-3.9),(136,-2.6),(138,0),(140,-2.6),(142,-4.3),(146,-6.2),(150,-5.6),(152,-4.4),(154,-2.4),(156,-3.8),(158,-3.6),(160,-3.2),(162,-1.6),(164,0),(166,-2.2),(168,-2.6),(170,-1.6),(172,0),(174,-2.0),(176,-2.2),(178,-1.2),(180,-2.0),(182,-1.0),(184,0),(186,-1.2),(188,-3.0),(191,-4.0),(194,-3.2),(196,-1.8),(198,0),(202,-3.2),(206,-4.9),(208,-5.0),(210,-4.6),(212,-3.6),(214,-2.0),(216,0),(218,-1.8),(222,-2.7),(225,-1.8),(228,0),(230,-1.2),(232,-1.8),(235,-1.2),(238,0),(240,-1.4),(243,-2.0),(246,-1.0),(249,-1.6),(252,-1.0),(254,-1.0),(256,-0.6),(258,0),(262,-2.4),(266,-3.2),(270,-2.2),(274,0),(278,-1.2),(282,-1.8),(286,-1.6),(290,-2.6)]
PK1_curves = [
 (130,290,[[(138,0),(142,-4.6),(146,-7.0),(150,-6.8),(154,-4.4),(156,-4.4),(158,-4.2),(162,-1.8),(164,0)],[(238,0),(240,-1.8),(243,-1.6),(246,0),(248,-1.8),(252,-2.2),(256,-1.8),(258,0)],[(274,0),(278,-1.0),(282,-1.6),(284,-1.7),(287,-0.9),(290,-1.3)]]),
 (132,290,[[(138,0),(142,-4.8),(146,-7.2),(150,-7.4),(154,-5.8),(156,-5.5),(158,-5.0),(162,-2.2),(164,0)],[(240,-1.8),(244,-3.0),(248,-2.6),(252,-1.8),(256,-1.0),(258,0),(262,-2.8),(266,-3.4),(270,-2.4),(274,0)]]),
 (134,290,[[(138,0),(142,-4.5),(146,-6.6),(150,-5.4),(152,-4.6),(154,-3.6),(156,-3.6),(158,-3.4),(162,-1.6),(164,0)],[(250,-1.8),(252,0),(254,-1.0)]]),
 (136,290,[[(138,0),(142,-4.2),(146,-6.0),(150,-4.6),(152,-2.8),(154,0),(156,-2.6),(158,-3.4),(160,-3.0),(162,-1.5),(164,0)],[(198,0),(202,-3.4),(206,-5.4),(210,-5.4),(212,-4.8),(216,-4.6),(220,-3.4),(224,-2.6),(228,0)],[(256,-0.6),(258,0),(260,0),(262,-2.2)]]),
 (138,290,[[(138,0),(142,-4.4),(146,-6.4),(150,-5.4),(152,-4.0),(154,-2.4),(156,-3.6),(158,-3.6),(162,-1.6),(164,0)],[(176,-2.0),(178,-1.1),(180,-2.0)],[(198,0),(202,-3.2),(206,-4.8),(210,-4.4),(212,-3.8),(214,-3.0),(216,-2.4),(220,-3.0),(224,-2.4),(228,0)],[(274,0),(278,-1.6),(282,-2.4),(286,-2.6),(290,-2.7)]]),
 (140,290,[[(140,-2.8),(142,-4.8),(146,-7.4),(150,-7.8),(154,-6.6),(158,-5.4),(162,-2.4),(164,0)],[(172,0),(174,-2.2),(176,-2.4),(178,-2.2),(180,-2.4),(182,-3.2),(184,-3.8),(186,-5.0),(188,-4.9),(192,-4.2),(194,-3.4),(196,-1.9),(198,0)],[(198,0),(202,-3.4),(206,-5.4),(210,-5.6),(214,-5.0),(216,-4.6),(220,-3.2),(224,-2.8),(228,0)]]),
 (142,237,[[(142,-4.9),(146,-7.6),(150,-8.0),(154,-7.2),(158,-5.8),(162,-2.6),(164,0)],[(172,0),(174,-2.2),(176,-2.6),(178,-3.0),(182,-4.2),(184,-4.8),(186,-6.0),(188,-5.6),(192,-4.6),(194,-3.6),(196,-2.0),(198,0)],[(198,0),(202,-4.2),(206,-7.4),(210,-10.0),(214,-11.6),(216,-11.8),(220,-11.4),(224,-9.6),(228,-7.6),(230,-6.6),(234,-5.8),(237,-5.3)]]),
 (146,240,[[(146,-8.0),(150,-8.6),(154,-7.6),(158,-5.6),(162,-2.6),(164,0)],[(198,0),(202,-4.0),(206,-6.8),(210,-8.4),(214,-8.6),(218,-7.8),(222,-6.0),(226,-4.6),(228,-4.4),(232,-4.4),(236,-3.4),(238,-2.6),(240,-2.7)]]),
 (146,290,[[(146,-8.8),(150,-9.6),(152,-9.7),(154,-9.2),(158,-6.6),(162,-3.0),(164,0)],[(172,0),(174,-2.3),(176,-2.8),(178,-3.4),(182,-5.2),(186,-6.6),(188,-6.6),(190,-5.8),(194,-3.8),(196,-2.1),(198,0)],[(198,0),(202,-3.8),(206,-6.4),(210,-8.0),(214,-8.4),(218,-7.4),(222,-5.0),(226,-2.8),(228,-2.0),(232,-2.8),(236,-2.0),(238,0)]]),
 (148,290,[[(148,-10.3),(150,-10.2),(154,-9.4),(158,-7.0),(162,-3.4),(164,0)],[(172,0),(174,-2.2),(176,-2.6),(178,-3.0),(182,-4.4),(186,-5.8),(188,-5.8),(190,-5.2),(194,-3.6),(196,-2.0),(198,0)],[(198,0),(202,-3.8),(206,-6.8),(210,-9.0),(214,-9.8),(218,-9.6),(222,-8.0),(226,-5.4),(228,-2.8),(232,-2.4),(236,-1.6),(238,0)]]),
 (150,233,[[(150,-11.3),(152,-11.2),(156,-9.4),(160,-6.0),(162,-3.8),(164,0)],[(172,0),(174,-2.4),(176,-3.0),(178,-4.0),(182,-5.6),(186,-7.0),(188,-6.8),(190,-6.0),(194,-3.8),(196,-2.1),(198,0)],[(198,0),(202,-4.2),(206,-7.6),(210,-10.2),(214,-11.6),(218,-12.2),(222,-12.0),(226,-11.0),(230,-9.6),(233,-8.7)]]),
 (198,290,[[(198,0),(202,-4.0),(206,-7.0),(210,-8.8),(214,-9.3),(218,-8.6),(222,-6.6),(226,-3.6),(228,-1.0),(232,-2.0),(236,-1.4),(238,0)]]),
 (198,290,[[(198,0),(202,-4.2),(206,-7.4),(210,-9.8),(214,-11.2),(218,-11.3),(222,-10.0),(226,-7.4),(228,-4.6),(232,-3.6),(236,-2.0),(238,0)]]),
 (198,290,[[(198,0),(202,-3.8),(206,-6.0),(210,-6.6),(214,-5.6),(216,-4.8),(220,-3.6),(224,-2.6),(228,0)]]),
 (198,290,[[(198,0),(202,-3.6),(206,-5.6),(210,-6.0),(214,-5.4),(216,-5.0),(220,-3.8),(224,-2.6),(228,0)]]),
 (198,290,[[(198,0),(202,-4.0),(206,-7.2),(210,-9.2),(214,-10.0),(218,-9.8),(222,-8.2),(226,-5.0),(228,-1.8),(232,-2.4),(236,-1.6),(238,0)]]),
]
PK1_labels = [('138',134.0,-7.4),('154',152.3,0.3),('164',165.5,-7.4),('172',171.0,3.1),('184',183.9,2.8),('198',196.2,2.8),('216',216.8,1.6),('228',229.7,1.7),('238',240.2,1.7),('252',253.5,-4.9),('258',257.6,2.6),('274',273.9,2.3)]

# ---------------- PK1R ----------------
PK1R_top = [(130,-4.0),(132,-4.5),(134,-4.0),(136,-2.7),(138,0),(140,-2.6),(142,-4.3),(146,-6.2),(150,-5.6),(152,-4.4),(154,-2.4),(156,-3.8),(158,-3.6),(160,-3.2),(162,-1.6),(164,0),(166,-2.2),(168,-2.7),(170,-1.6),(172,0),(174,-2.0),(176,-2.2),(178,-1.2),(180,-2.0),(182,-1.0),(184,0),(186,-1.2),(188,-3.0),(191,-4.0),(194,-3.2),(196,-1.8),(198,0),(202,-3.2),(206,-5.0),(208,-5.1),(210,-4.6),(212,-3.6),(214,-2.0),(216,0),(218,-1.8),(222,-2.7),(225,-1.8),(228,0),(230,-1.2),(232,-1.8),(235,-1.2),(238,0),(240,-1.4),(243,-2.0),(246,-1.0),(249,-1.6),(252,-1.0),(254,-1.0),(256,-0.6),(258,0),(262,-2.2),(266,-2.9),(270,-2.0),(274,0),(278,-1.2),(282,-1.8),(286,-1.8),(290,-2.6)]
PK1R_curves = [
 (130,290,[[(138,0),(142,-4.6),(146,-7.0),(150,-6.8),(154,-3.7),(156,-4.5),(158,-4.6),(160,-4.4),(162,-2.0),(164,0)],[(238,0),(240,-1.8),(243,-1.6),(246,0),(248,-1.8),(252,-2.2),(256,-1.8),(258,0)],[(274,0),(278,-1.0),(282,-1.6),(284,-1.6),(287,-0.8),(290,-1.4)]]),
 (132,290,[[(138,0),(142,-4.8),(146,-7.3),(150,-7.6),(154,-6.0),(156,-5.6),(158,-5.2),(162,-2.2),(164,0)],[(240,-1.8),(244,-2.8),(248,-2.4),(252,-1.6),(256,-0.8),(258,0),(262,-2.8),(266,-3.4),(270,-2.4),(274,0)]]),
 (134,290,[[(138,0),(142,-4.5),(146,-6.6),(150,-5.2),(152,-3.8),(154,-1.0),(156,-3.0),(158,-3.4),(162,-1.6),(164,0)],[(250,-1.8),(252,0),(254,-1.0)]]),
 (136,290,[[(138,0),(142,-4.2),(146,-6.0),(150,-4.6),(152,-2.8),(154,0),(156,-2.6),(158,-3.4),(160,-3.0),(162,-1.5),(164,0)],[(198,0),(202,-3.6),(206,-5.6),(210,-5.2),(212,-4.8),(216,-4.8),(220,-3.6),(224,-2.8),(228,0)],[(256,-0.6),(258,0),(260,0),(262,-2.2)]]),
 (138,290,[[(138,0),(142,-4.4),(146,-6.4),(150,-5.4),(152,-4.0),(154,-2.2),(156,-3.6),(158,-3.6),(162,-1.6),(164,0)],[(176,-2.0),(178,-1.1),(180,-2.0)],[(198,0),(202,-3.2),(206,-4.8),(210,-4.4),(212,-3.8),(214,-3.0),(216,-2.4),(220,-3.0),(224,-2.4),(228,0)],[(274,0),(278,-1.6),(282,-2.4),(286,-2.6),(290,-2.7)]]),
 (140,290,[[(140,-2.8),(142,-4.8),(146,-7.4),(150,-7.8),(154,-6.6),(158,-5.4),(162,-2.4),(164,0)],[(172,0),(174,-2.2),(176,-2.4),(178,-2.2),(180,-2.4),(182,-3.2),(184,-3.8),(186,-5.0),(188,-4.9),(192,-4.2),(194,-3.4),(196,-1.9),(198,0)],[(198,0),(202,-3.4),(206,-5.4),(210,-5.6),(214,-5.0),(216,-4.6),(220,-3.2),(224,-2.8),(228,0)]]),
 (142,237,[[(142,-4.9),(146,-7.6),(150,-8.0),(154,-7.2),(158,-5.8),(162,-2.6),(164,0)],[(172,0),(174,-2.2),(176,-2.6),(178,-3.0),(182,-4.2),(184,-4.8),(186,-6.0),(188,-5.6),(192,-4.6),(194,-3.6),(196,-2.0),(198,0)],[(198,0),(202,-4.2),(206,-7.4),(210,-10.0),(214,-11.6),(216,-11.9),(220,-11.4),(224,-9.6),(228,-7.4),(230,-6.6),(234,-5.8),(237,-5.4)]]),
 (146,240,[[(146,-8.0),(150,-8.6),(154,-7.6),(158,-5.6),(162,-2.6),(164,0)],[(198,0),(202,-4.0),(206,-6.8),(210,-8.3),(214,-8.5),(218,-7.8),(222,-6.0),(226,-4.8),(228,-4.6),(232,-4.6),(236,-3.4),(238,-2.6),(240,-3.0)]]),
 (146,290,[[(146,-8.7),(150,-9.6),(152,-9.6),(154,-9.2),(158,-6.6),(162,-3.0),(164,0)],[(172,0),(174,-2.3),(176,-2.8),(178,-3.4),(182,-5.2),(186,-6.6),(188,-6.6),(190,-5.8),(194,-3.8),(196,-2.1),(198,0)],[(198,0),(202,-3.8),(206,-6.0),(210,-6.9),(214,-6.6),(218,-5.8),(222,-4.8),(226,-3.0),(228,-2.4),(232,-3.0),(236,-2.2),(238,0)]]),
 (148,290,[[(148,-10.4),(150,-10.2),(154,-9.4),(158,-7.0),(162,-3.4),(164,0)],[(172,0),(174,-2.2),(176,-2.6),(178,-3.0),(182,-4.4),(186,-5.8),(188,-5.8),(190,-5.2),(194,-3.6),(196,-2.0),(198,0)],[(198,0),(202,-3.8),(206,-6.8),(210,-9.0),(214,-9.8),(218,-9.6),(222,-8.0),(226,-5.4),(228,-2.8),(232,-2.4),(236,-1.6),(238,0)]]),
 (150,233,[[(150,-11.2),(152,-11.1),(156,-9.4),(160,-6.0),(162,-3.8),(164,0)],[(172,0),(174,-2.4),(176,-3.0),(178,-4.0),(182,-5.6),(186,-7.0),(188,-6.8),(190,-6.0),(194,-3.8),(196,-2.1),(198,0)],[(198,0),(202,-4.2),(206,-7.6),(210,-10.2),(214,-11.6),(218,-12.2),(222,-12.0),(226,-11.0),(230,-9.8),(233,-9.0)]]),
 (198,290,[[(198,0),(202,-4.0),(206,-7.0),(210,-8.8),(214,-9.3),(218,-8.6),(222,-6.6),(226,-3.6),(228,-1.0),(232,-2.0),(236,-1.4),(238,0)]]),
 (198,290,[[(198,0),(202,-4.2),(206,-7.4),(210,-9.8),(214,-11.2),(218,-11.3),(222,-10.0),(226,-7.4),(228,-4.6),(232,-3.6),(236,-2.0),(238,0)]]),
 (198,290,[[(198,0),(202,-3.8),(206,-6.0),(210,-6.6),(214,-5.6),(216,-4.8),(220,-3.6),(224,-2.6),(228,0)]]),
 (198,290,[[(198,0),(202,-3.6),(206,-5.6),(210,-6.0),(214,-5.4),(216,-5.0),(220,-3.8),(224,-2.6),(228,0)]]),
 (198,290,[[(198,0),(202,-4.0),(206,-7.2),(210,-9.2),(214,-10.2),(218,-10.0),(222,-8.2),(226,-5.0),(228,-1.8),(232,-2.4),(236,-1.6),(238,0)]]),
]
PK1R_labels = [('138',134.3,-7.2),('154',152.1,2.1),('164',167.2,-6.3),('172',171.0,1.3),('184',185.5,1.9),('198',198.5,1.9),('216',213.2,2.1),('228',228.0,1.9),('238',239.1,2.1),('252',252.2,-5.0),('258',259.7,2.1),('274',274.5,2.1)]

# panel name, name height (MeV), envelope, curves, shell labels
PANELS = [
    ('NL1', 3.4, NL1_top, NL1_curves, NL1_labels),
    ('NL3', 2.7, NL3_top, NL3_curves, NL3_labels),
    ('NLSH', 3.0, NLSH_top, NLSH_curves, NLSH_labels),
    ('TM1', 2.7, TM1_top, TM1_curves, TM1_labels),
    ('TW99', 3.4, TW99_top, TW99_curves, TW99_labels),
    ('DD\u2212ME1', 2.4, DDME1_top, DDME1_curves, DDME1_labels),
    ('PK1', 2.8, PK1_top, PK1_curves, PK1_labels),
    ('PK1R', 2.7, PK1R_top, PK1R_curves, PK1R_labels),
]

Y_TITLE = 'Pairing energy for neutron E<sup>n</sup><sub>pair</sub>  [MeV]'
X_TITLE = 'Neutron Number N'


def build(top, nmin, nmax, patches):
    pts = list(top)
    for patch in patches:
        lo, hi = patch[0][0], patch[-1][0]
        pts = [p for p in pts if p[0] < lo or p[0] > hi] + list(patch)
    pts.sort(key=lambda p: p[0])
    return [p for p in pts if nmin <= p[0] <= nmax]


# layout geometry (pixels)
COL_L = [106, 988]
COL_R = [843, 1723]
TOP0 = 5
PH = 144

fig = go.Figure()
layout = dict(width=W, height=H, margin=dict(l=0, r=0, t=0, b=0),
              paper_bgcolor='white', plot_bgcolor='white', showlegend=False,
              font=dict(family=FONT, color='black'))
annotations = []

for i, (name, name_y, top, curves, labels) in enumerate(PANELS):
    col, row = divmod(i, 4)
    ax = i + 1
    xs = '' if ax == 1 else str(ax)
    t_px = TOP0 + row * PH
    b_px = t_px + PH
    x_dom = [COL_L[col] / W, COL_R[col] / W]
    y_dom = [(H - b_px) / H, (H - t_px) / H]
    layout['xaxis' + xs] = dict(
        domain=x_dom, range=X_RANGE, anchor='y' + xs,
        showline=True, linewidth=2.5, linecolor='black', mirror=True,
        ticks='inside', tickvals=X_MAJOR, ticklen=25, tickwidth=2.5, tickcolor='black',
        minor=dict(tickvals=X_MINOR, ticklen=15, tickwidth=1.5, tickcolor='black', ticks='inside'),
        showgrid=False, zeroline=False, showticklabels=(row == 3),
        tickfont=dict(size=18, family=FONT, color='black'), ticklabelstandoff=8)
    layout['yaxis' + xs] = dict(
        domain=y_dom, range=Y_RANGE, anchor='x' + xs,
        showline=True, linewidth=2.5, linecolor='black', mirror='ticks',
        ticks='inside', tickvals=Y_MAJOR, ticklen=24, tickwidth=2.5, tickcolor='black',
        minor=dict(tickvals=Y_MINOR, ticklen=13, tickwidth=1.5, tickcolor='black', ticks='inside'),
        showgrid=False, zeroline=False,
        tickfont=dict(size=18, family=FONT, color='black'), ticklabelstandoff=13)

    for k, (nmin, nmax, patches) in enumerate(curves):
        pts = build(top, nmin, nmax, patches)
        fig.add_trace(go.Scatter(
            x=[p[0] for p in pts], y=[p[1] for p in pts], mode='lines',
            line=dict(color=COLORS[k % len(COLORS)], width=1.2),
            xaxis='x' + xs, yaxis='y' + xs, hoverinfo='skip', showlegend=False))
    fig.add_trace(go.Scatter(
        x=[p[0] for p in top], y=[p[1] for p in top], mode='lines',
        line=dict(color=ENVELOPE_COLOR, width=1.2),
        xaxis='x' + xs, yaxis='y' + xs, hoverinfo='skip', showlegend=False))

    annotations.append(dict(text=name, x=124.3, y=name_y, xref='x' + xs, yref='y' + xs,
                            xanchor='left', yanchor='middle', showarrow=False,
                            font=dict(size=32, family=FONT, color='black')))
    for txt, nx, ey in labels:
        annotations.append(dict(text=txt, x=nx, y=ey, xref='x' + xs, yref='y' + xs,
                                xanchor='center', yanchor='middle', showarrow=False,
                                font=dict(size=24, family=FONT, color='black')))

for col in range(2):
    cx = (COL_L[col] + COL_R[col]) / 2 / W
    annotations.append(dict(text=X_TITLE, x=cx, y=(H - 631) / H, xref='paper', yref='paper',
                            xanchor='center', yanchor='middle', showarrow=False,
                            font=dict(size=21, family=FONT, color='black')))
    ty_x = (27 if col == 0 else 906) / W
    annotations.append(dict(text=Y_TITLE, x=ty_x, y=(H - 292) / H, xref='paper', yref='paper',
                            xanchor='center', yanchor='middle', showarrow=False, textangle=-90,
                            font=dict(size=21, family=FONT, color='black')))

layout['annotations'] = annotations
fig.update_layout(**layout)
fig.write_html('out.html')
